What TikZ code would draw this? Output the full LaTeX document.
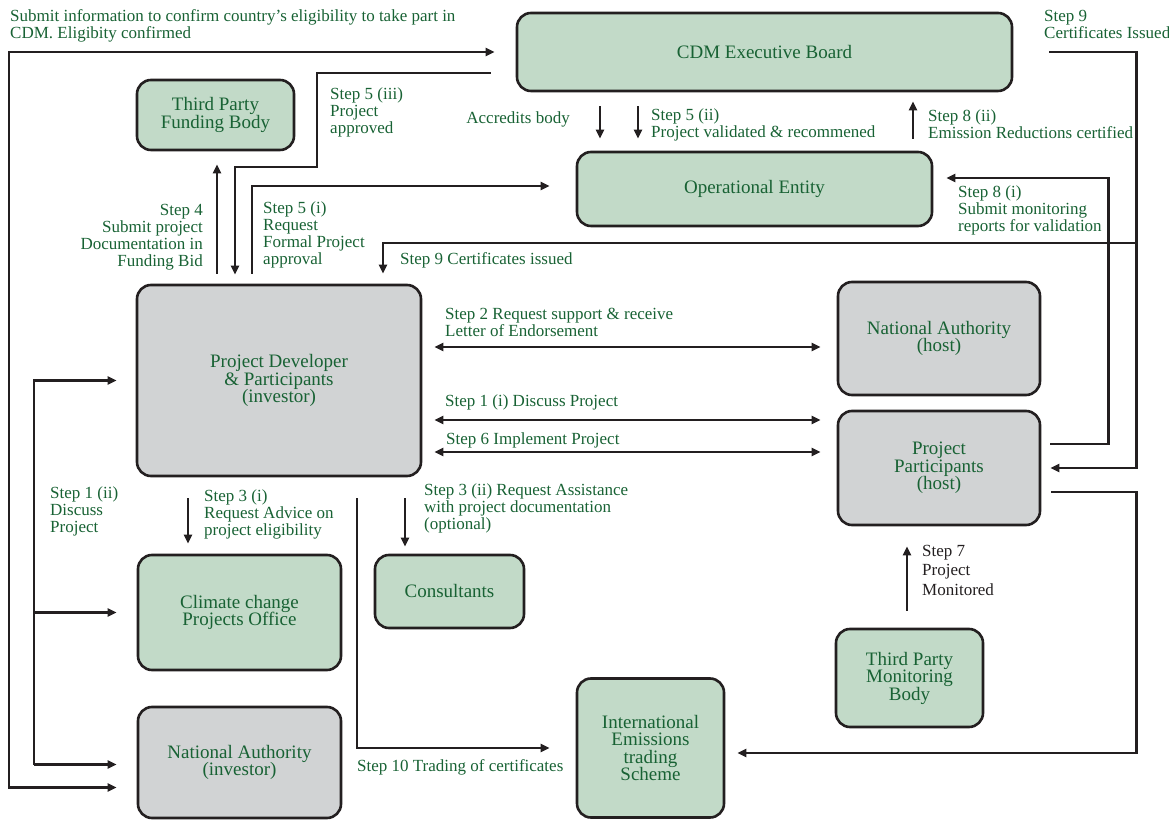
\documentclass[tikz,border=0pt]{standalone}
\usepackage{fontspec}
\setmainfont{Liberation Serif}
\usepackage{xcolor}
\usetikzlibrary{arrows.meta, positioning}

\definecolor{cdmgreen}{RGB}{24,98,52}
\definecolor{boxgreen}{RGB}{194,218,200}
\definecolor{boxgray}{RGB}{209,211,212}
\definecolor{edge}{RGB}{35,31,32}

\begin{document}
\begin{tikzpicture}[
    x=1pt, y=1pt,
    >={Triangle[length=9pt, width=8pt]},
    box/.style={draw=edge, line width=2.6pt, rounded corners=14pt, text=cdmgreen, align=center, inner sep=0pt, font=\fontsize{19}{17.5}\selectfont},
    grn/.style={box, fill=boxgreen},
    gry/.style={box, fill=boxgray},
    lbl/.style={text=cdmgreen, align=left, inner sep=0pt, anchor=north west, font=\fontsize{17}{17}\selectfont},
    arrow/.style={->, line width=2.4pt, draw=edge},
    twoway/.style={<->, line width=2.4pt, draw=edge},
]
\useasboundingbox (0,0) rectangle (1169,819);

% === BOXES ===
\node[grn, minimum width=495pt, minimum height=78pt] (cdm) at (764.5,767) {CDM Executive Board};
\node[grn, minimum width=355pt, minimum height=74pt] (oe) at (754.5,630) {Operational Entity};
\node[grn, minimum width=157pt, minimum height=70pt] (tpfb) at (215.5,704) {Third Party\\Funding Body};
\node[gry, minimum width=284pt, minimum height=191pt] (pd) at (279,438.5) {Project Developer\\\& Participants\\(investor)};
\node[gry, minimum width=202pt, minimum height=113pt] (nah) at (939,480.5) {National Authority\\(host)};
\node[gry, minimum width=202pt, minimum height=114pt] (pph) at (939,351) {Project\\Participants\\(host)};
\node[grn, minimum width=203pt, minimum height=115pt] (cpo) at (239.5,206.5) {Climate change\\Projects Office};
\node[gry, minimum width=203pt, minimum height=111pt] (nai) at (239.5,56.5) {National Authority\\(investor)};
\node[grn, minimum width=149pt, minimum height=73pt] (cons) at (449.5,227.5) {Consultants};
\node[grn, minimum width=147pt, minimum height=139pt] (ies) at (650.5,71) {International\\Emissions\\trading\\Scheme};
\node[grn, minimum width=147pt, minimum height=98pt] (tpmb) at (909.5,141) {Third Party\\Monitoring\\Body};

% === TOP: BOARD ===
\draw[twoway] ([xshift=-20pt,yshift=-25pt]nai.west) -- ++(-108,0) |- ([xshift=-21pt]cdm.west);
\node[lbl] (l_elig) at (10,810) {Submit information to confirm country's eligibility to take part in\\CDM. Eligibity confirmed};

\draw[arrow] ([xshift=-25pt,yshift=-21pt]cdm.west) -- ++(-174,0) -- ++(0,-94) -| ([xshift=-44pt,yshift=9pt]pd.north);
\node[lbl] (l_s5c) at (330,731) {Step 5 (iii)\\Project\\approved};

\draw[arrow] ([xshift=-164.5pt,yshift=-14pt]cdm.south) -- ([xshift=-154.5pt,yshift=12pt]oe.north);
\node[lbl, anchor=north east] (l_accr) at (570,707) {Accredits body};
\draw[arrow] ([xshift=-126.5pt,yshift=-14pt]cdm.south) -- ([xshift=-116.5pt,yshift=12pt]oe.north);
\node[lbl] (l_s5b) at (651,710) {Step 5 (ii)\\Project validated \& recommened};
\draw[arrow] ([xshift=158.5pt,yshift=12pt]oe.north) -- ([xshift=148.5pt,yshift=-9pt]cdm.south);
\node[lbl] (l_s8b) at (928,709) {Step 8 (ii)\\Emission Reductions certified};

% Step 9 loop on the right
\draw[arrow] ([xshift=36pt]cdm.east) -- ++(87,0) coordinate (c9) |- ([xshift=9pt]pph.east);
\node[lbl] (l_s9a) at (1044,809) {Step 9\\Certificates Issued};
\coordinate (j9) at ([yshift=-191pt]c9);
\draw[arrow] (j9) -| ([xshift=104pt,yshift=10pt]pd.north);
\node[lbl] (l_s9b) at (400,567) {Step 9 Certificates issued};

\draw[arrow] ([xshift=9pt,yshift=24pt]pph.east) -- ++(58,0) |- ([xshift=13pt,yshift=11pt]oe.east);
\node[lbl] (l_s8a) at (958,633) {Step 8 (i)\\Submit monitoring\\reports for validation};

% === DEVELOPER ===
\draw[arrow] ([xshift=-62pt,yshift=10pt]pd.north) -- ([xshift=1.5pt,yshift=-13pt]tpfb.south);
\node[lbl, anchor=north east, align=right] (l_s4) at (203,615) {Step 4\\Submit project\\Documentation in\\Funding Bid};
\draw[arrow] ([xshift=-27pt,yshift=10pt]pd.north) |- ([xshift=-26pt,yshift=3pt]oe.west);
\node[lbl] (l_s5a) at (263,617) {Step 5 (i)\\Request\\Formal Project\\approval};

\draw[twoway] ([xshift=12pt,yshift=33.5pt]pd.east) -- ([xshift=-16pt,yshift=-8.5pt]nah.west);
\node[lbl] (l_s2) at (445,511) {Step 2 Request support \& receive\\Letter of Endorsement};
\draw[twoway] ([xshift=12pt,yshift=-39.5pt]pd.east) -- ([xshift=-16pt,yshift=48pt]pph.west);
\node[lbl] (l_s1a) at (445,424) {Step 1 (i) Discuss Project};
\draw[twoway] ([xshift=12pt,yshift=-71.5pt]pd.east) -- ([xshift=-16pt,yshift=16pt]pph.west);
\node[lbl] (l_s6) at (446,386) {Step 6 Implement Project};

% left spine
\coordinate (spine) at ([xshift=-103pt,yshift=-2pt]nai.west);
\draw[arrow] (spine) |- ([xshift=-19pt]pd.west);
\draw[arrow] (spine |- cpo.west) -- ([xshift=-20pt]cpo.west);
\draw[arrow] (spine) -- ([xshift=-20pt,yshift=-2pt]nai.west);
\node[lbl] (l_s1b) at (50,332) {Step 1 (ii)\\Discuss\\Project};

% === BOTTOM ===
\draw[arrow] ([xshift=-91pt,yshift=-21pt]pd.south) -- ([xshift=-51.5pt,yshift=10pt]cpo.north);
\node[lbl] (l_s3a) at (204,329) {Step 3 (i)\\Request Advice on\\project eligibility};
\draw[arrow] ([xshift=126pt,yshift=-21pt]pd.south) -- ([xshift=-44.5pt,yshift=7pt]cons.north);
\node[lbl] (l_s3b) at (424,335) {Step 3 (ii) Request Assistance\\with project documentation\\(optional)};
\draw[arrow] ([xshift=78pt,yshift=-21pt]pd.south) |- ([xshift=-26pt]ies.west);
\node[lbl] (l_s10) at (357,60) {Step 10 Trading of certificates};

\draw[arrow] ([xshift=10pt,yshift=-24pt]pph.east) -- ++(85,0) |- ([xshift=12pt,yshift=-5pt]ies.east);
\draw[arrow] ([xshift=-2.5pt,yshift=17pt]tpmb.north) -- ([xshift=-32pt,yshift=-20pt]pph.south);
\node[lbl, text=edge, font=\fontsize{17}{19.5}\selectfont] (l_s7) at (922,274) {Step 7\\Project\\Monitored};

\end{tikzpicture}
\end{document}
